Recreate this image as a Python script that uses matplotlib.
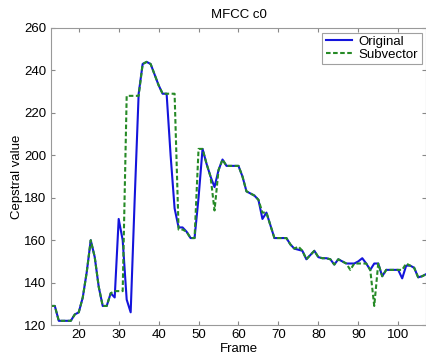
import numpy as np
import matplotlib
matplotlib.use('Agg')
import matplotlib.pyplot as plt

# frame numbers
frames = np.arange(13, 108)

# original c0 trajectory
original = [129, 129, 122, 122, 122, 122, 125, 126, 133, 145,
            160, 152, 138, 129, 129, 135, 133, 170, 160, 132,
            126, 179, 229, 243, 244, 243, 238, 233, 229, 229,
            200, 175, 166, 166, 164, 161, 161, 180, 203, 196,
            190, 185, 193, 198, 195, 195, 195, 195, 190, 183,
            182, 181, 179, 170, 173, 167, 161, 161, 161, 161,
            158, 156, 155.5, 155, 151, 153, 155, 152, 151.5, 151.5,
            151, 148.5, 151, 150, 149, 149, 149, 150, 151.5, 149,
            146, 149, 149, 143, 146, 146, 146, 146, 142, 148,
            148, 147, 142.5, 143, 144]

# subvector quantised trajectory
subvector = [129, 129, 122, 122, 122, 122, 125, 126, 133, 145,
             160, 152, 138, 129, 129, 135, 136, 136, 136, 228,
             228, 228, 228, 243, 244, 243, 238, 233, 229, 229,
             229, 229, 165, 165, 164, 161, 161, 203, 203, 196,
             190, 174, 193, 198, 195, 195, 195, 195, 190, 183,
             182, 181, 179, 173, 173, 167, 161, 161, 161, 161,
             158, 156, 157, 155, 151, 153, 155, 152, 151.5, 151.5,
             151, 148.5, 151, 150, 149, 146, 149, 149, 149, 149,
             146, 129, 149, 143, 146, 146, 146, 146, 146, 149,
             148, 147, 142.5, 143, 144]

plt.rcParams['font.family'] = ['Liberation Sans', 'DejaVu Sans']
plt.rcParams['font.size'] = 9.5

fig = plt.figure(figsize=(4.27, 3.58), dpi=100)
ax = fig.add_axes([0.119, 0.092, 0.879, 0.830])

ax.plot(frames, original, '-', color='#1414dc', lw=1.5, label='Original')
ax.plot(frames, subvector, '--', color='#268a26', lw=1.5, dashes=(2.2, 1.2), label='Subvector')

ax.set_xlim(13, 107)
ax.set_ylim(120, 260)
ax.set_xticks(np.arange(20, 101, 10))
ax.set_yticks(np.arange(120, 261, 20))
ax.tick_params(direction='in', top=True, right=True, length=3, color='#888888',
               labelsize=9.5, pad=3)
for s in ax.spines.values():
    s.set_color('#999999')
    s.set_linewidth(0.8)

ax.set_title('MFCC c0', fontsize=9.5, pad=7)
ax.set_xlabel('Frame', fontsize=9.5, labelpad=1)
ax.set_ylabel('Cepstral value', fontsize=9.5, labelpad=1)

leg = ax.legend(loc='upper right', fontsize=9.5, fancybox=False, handlelength=2.0,
                borderpad=0.25, labelspacing=0.05, handletextpad=0.5, borderaxespad=0.35)
leg.get_frame().set_edgecolor('#888888')
leg.get_frame().set_linewidth(0.8)

fig.savefig('out.png', dpi=100)
